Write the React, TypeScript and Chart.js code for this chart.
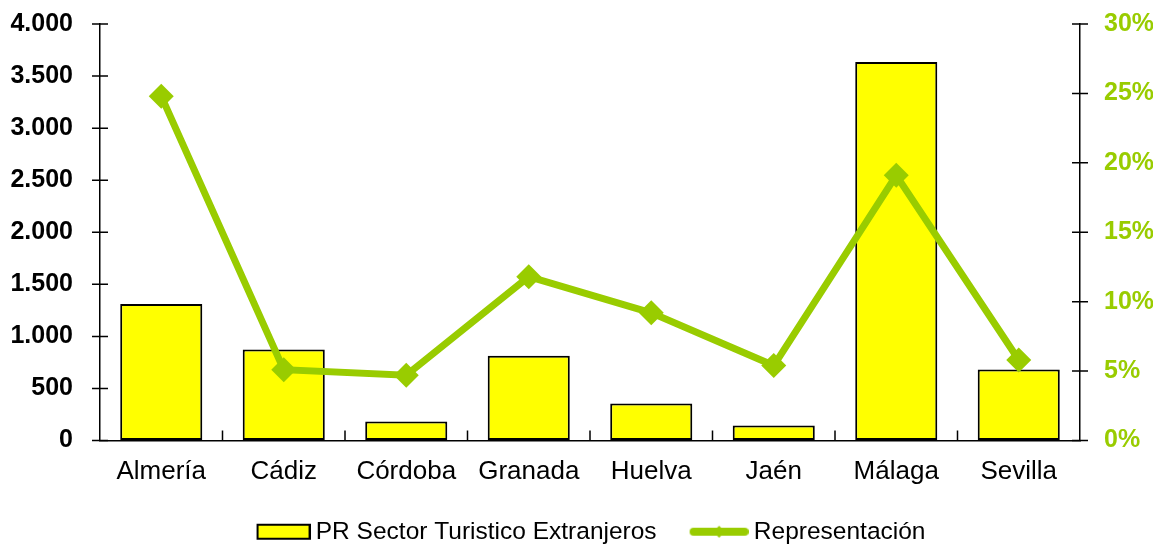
import React, { useEffect, useRef } from "react";
import { Chart, registerables } from "chart.js";

Chart.register(...registerables);

const categories = ["Almería", "Cádiz", "Córdoba", "Granada", "Huelva", "Jaén", "Málaga", "Sevilla"];
const prValues = [1310, 875, 183, 815, 355, 143, 3635, 683];
const representacion = [24.8, 5.1, 4.7, 11.8, 9.2, 5.4, 19.1, 5.8];
const seriesNames = ["PR Sector Turistico Extranjeros", "Representación"];
const leftAxis = { min: 0, max: 4000, step: 500 };
const rightAxis = { min: 0, max: 30, step: 5 };

const GREEN = "#99CC00";
const YELLOW = "#FFFF00";
const FONT = "'Liberation Sans', Arial, Helvetica, sans-serif";

function fmtThousands(v: number): string {
  return String(Math.round(v)).replace(/\B(?=(\d{3})+(?!\d))/g, ".");
}

const PW = 76; // legend pointStyleWidth
const IMG_W = PW + 14;
const IMG_H = 22;

function makeBarSymbol(): HTMLCanvasElement {
  const c = document.createElement("canvas");
  c.width = IMG_W;
  c.height = IMG_H;
  const ctx = c.getContext("2d")!;
  const x0 = IMG_W - 54;
  ctx.fillStyle = YELLOW;
  ctx.fillRect(x0 + 1, 4, 52, 14);
  ctx.strokeStyle = "#000";
  ctx.lineWidth = 2;
  ctx.strokeRect(x0 + 1, 4, 52, 14);
  return c;
}

function makeLineSymbol(): HTMLCanvasElement {
  const c = document.createElement("canvas");
  c.width = IMG_W;
  c.height = IMG_H;
  const ctx = c.getContext("2d")!;
  const x0 = IMG_W - 59;
  const x1 = IMG_W;
  const cy = IMG_H / 2;
  ctx.strokeStyle = GREEN;
  ctx.lineWidth = 8;
  ctx.lineCap = "round";
  ctx.beginPath();
  ctx.moveTo(x0 + 4, cy);
  ctx.lineTo(x1 - 4, cy);
  ctx.stroke();
  const mx = (x0 + x1) / 2;
  ctx.fillStyle = GREEN;
  ctx.beginPath();
  ctx.moveTo(mx - 6, cy);
  ctx.lineTo(mx, cy - 6);
  ctx.lineTo(mx + 6, cy);
  ctx.lineTo(mx, cy + 6);
  ctx.closePath();
  ctx.fill();
  return c;
}

const tickMarksPlugin = {
  id: "tickMarks",
  afterDraw(chart: any) {
    const ctx = chart.ctx;
    const sx = chart.scales.x;
    const sy = chart.scales.y;
    const sy1 = chart.scales.y1;
    ctx.save();
    ctx.strokeStyle = "#000";
    ctx.lineWidth = 1.5;
    ctx.beginPath();
    sy.ticks.forEach((_t: any, i: number) => {
      const y = sy.getPixelForTick(i);
      ctx.moveTo(sy.right - 8, y);
      ctx.lineTo(sy.right + 8, y);
    });
    sy1.ticks.forEach((_t: any, i: number) => {
      const y = sy1.getPixelForTick(i);
      ctx.moveTo(sy1.left - 8, y);
      ctx.lineTo(sy1.left + 8, y);
    });
    for (let i = 1; i < categories.length; i++) {
      const x = sx.getPixelForValue(i - 0.5);
      ctx.moveTo(x, sx.top);
      ctx.lineTo(x, sx.top - 10);
    }
    ctx.stroke();
    ctx.restore();
  },
};

export default function App() {
  const canvasRef = useRef<HTMLCanvasElement | null>(null);

  useEffect(() => {
    if (!canvasRef.current) return;
    const barImg = makeBarSymbol();
    const lineImg = makeLineSymbol();
    const chart = new Chart(canvasRef.current, {
      type: "bar",
      data: {
        labels: categories,
        datasets: [
          {
            type: "bar",
            label: seriesNames[0],
            data: prValues,
            backgroundColor: YELLOW,
            borderColor: "#000",
            borderWidth: 2,
            borderSkipped: false,
            barPercentage: 0.67,
            categoryPercentage: 1,
            yAxisID: "y",
            order: 1,
          } as any,
          {
            type: "line",
            label: seriesNames[1],
            data: representacion,
            borderColor: GREEN,
            backgroundColor: GREEN,
            borderWidth: 7,
            pointStyle: "rectRot",
            pointRadius: 12.5,
            pointBackgroundColor: GREEN,
            pointBorderColor: GREEN,
            pointBorderWidth: 0,
            tension: 0,
            fill: false,
            yAxisID: "y1",
            order: 0,
          } as any,
        ],
      },
      options: {
        responsive: false,
        animation: false,
        devicePixelRatio: 1,
        layout: { autoPadding: false, padding: { top: 24, left: 0, right: 7, bottom: -10 } },
        plugins: {
          tooltip: { enabled: false },
          legend: {
            position: "bottom",
            labels: {
              usePointStyle: true,
              pointStyleWidth: PW,
              padding: 9,
              color: "#000",
              font: { family: FONT, size: 24.5, lineHeight: 1 },
              generateLabels: () => [
                { text: seriesNames[0], pointStyle: barImg, fillStyle: YELLOW, strokeStyle: "#000", lineWidth: 0, hidden: false, datasetIndex: 0 } as any,
                { text: seriesNames[1], pointStyle: lineImg, fillStyle: GREEN, strokeStyle: GREEN, lineWidth: 0, hidden: false, datasetIndex: 1 } as any,
              ],
            },
          },
        },
        scales: {
          x: {
            type: "category",
            offset: true,
            grid: { display: true, drawOnChartArea: false, drawTicks: false },
            border: { display: true, color: "#000", width: 1.5 },
            ticks: { color: "#000", font: { family: FONT, size: 26 }, padding: 16, maxRotation: 0, autoSkip: false },
            afterFit: (s: any) => { s.height = 70; },
          },
          y: {
            position: "left",
            min: leftAxis.min,
            max: leftAxis.max,
            grid: { display: true, drawOnChartArea: false, drawTicks: false },
            border: { display: true, color: "#000", width: 1.5 },
            ticks: {
              stepSize: leftAxis.step,
              color: "#000",
              font: { family: FONT, size: 25, weight: "bold" },
              padding: 27,
              callback: (v: any) => fmtThousands(Number(v)),
            },
            afterFit: (s: any) => { s.width = 100; s.paddingTop = 0; s.paddingBottom = 0; },
          },
          y1: {
            position: "right",
            min: rightAxis.min,
            max: rightAxis.max,
            grid: { display: true, drawOnChartArea: false, drawTicks: false },
            border: { display: true, color: "#000", width: 1.5 },
            ticks: {
              stepSize: rightAxis.step,
              color: GREEN,
              font: { family: FONT, size: 25, weight: "bold" },
              padding: 24,
              callback: (v: any) => `${v}%`,
            },
            afterFit: (s: any) => { s.width = 73; s.paddingTop = 0; s.paddingBottom = 0; },
          },
        },
      } as any,
      plugins: [tickMarksPlugin],
    });
    return () => chart.destroy();
  }, []);

  return (
    <div style={{ position: "absolute", left: 0, top: 0, width: 1160, height: 544, background: "#fff" }}>
      <canvas ref={canvasRef} width={1160} height={544} style={{ display: "block" }} />
    </div>
  );
}
